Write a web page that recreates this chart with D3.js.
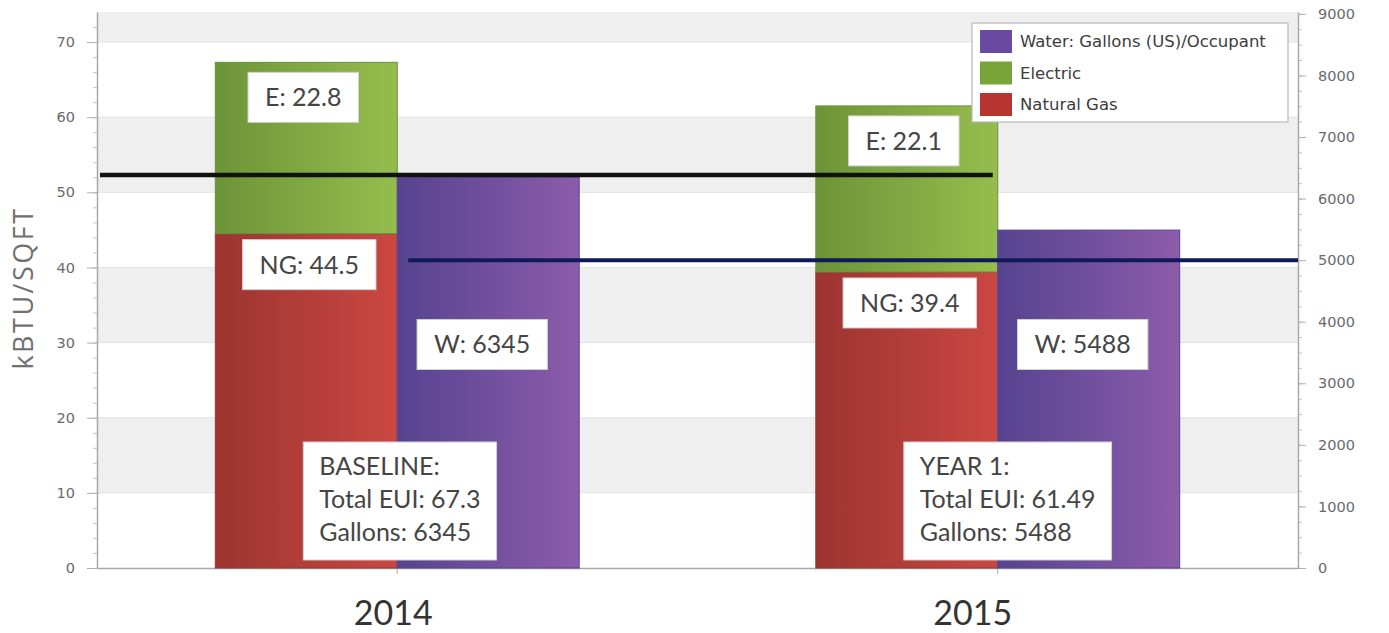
<!DOCTYPE html>
<html>
<head>
<meta charset="utf-8">
<script src="https://cdn.jsdelivr.net/npm/d3@7"></script>
<style>
  body { margin: 0; background: #ffffff; }
  svg { display: block; font-family: Lato, "Open Sans", sans-serif; }
</style>
</head>
<body>
<svg id="chart" width="1389" height="633"></svg>
<script>
// ---- data ----
const years = ["2014", "2015"];
const naturalGas = [44.5, 39.4];          // kBTU/SQFT
const electric = [22.8, 22.1];            // kBTU/SQFT
const water = [6345, 5488];               // gallons per occupant
const summaryTitles = ["BASELINE:", "YEAR 1:"];
const totalEui = [67.3, 61.49];
const gallons = [6345, 5488];
const leftTicks = [0, 10, 20, 30, 40, 50, 60, 70];
const rightTicks = [0, 1000, 2000, 3000, 4000, 5000, 6000, 7000, 8000, 9000];
const legendNames = ["Water: Gallons (US)/Occupant", "Electric", "Natural Gas"];
const euiReference = 52.3;     // kBTU/SQFT target line
const waterReference = 5000;   // gallons target line

// ---- layout ----
const svg = d3.select("#chart");
const plot = { left: 97, right: 1298, top: 12, bottom: 568 };

const yL = d3.scaleLinear().domain([0, 74]).range([plot.bottom, plot.top]);
const yR = d3.scaleLinear().domain([0, 9030]).range([plot.bottom, plot.top]);
const x0 = d3.scaleBand().domain(years).range([plot.left, plot.right]).padding(0);
const groupW = x0.bandwidth() * 0.606;
const x1 = d3.scaleBand().domain(["energy", "water"]).range([0, groupW]);
const groupLeft = y => x0(y) + (x0.bandwidth() - groupW) / 2;
const center = y => x0(y) + x0.bandwidth() / 2;

const colors = {
  gas: ["#9c3430", "#cb4742"],
  elec: ["#6c9438", "#95bd4d"],
  water: ["#56438f", "#8c5cab"]
};
const legendColors = ["#6a4aa0", "#78a53a", "#b8352f"];

// horizontal gradients for the bars
const defs = svg.append("defs");
Object.entries(colors).forEach(([k, c]) => {
  const g = defs.append("linearGradient").attr("id", "grad-" + k)
    .attr("x1", "0%").attr("x2", "100%").attr("y1", "0%").attr("y2", "0%");
  g.append("stop").attr("offset", "0%").attr("stop-color", c[0]);
  g.append("stop").attr("offset", "100%").attr("stop-color", c[1]);
});

// ---- alternating background bands ----
const bandEdges = leftTicks.concat([yL.domain()[1]]);
svg.append("g").selectAll("rect")
  .data(d3.range(bandEdges.length - 1))
  .join("rect")
  .attr("x", plot.left)
  .attr("width", plot.right - plot.left)
  .attr("y", i => yL(bandEdges[i + 1]))
  .attr("height", i => yL(bandEdges[i]) - yL(bandEdges[i + 1]))
  .attr("fill", i => i % 2 === 1 ? "#efefef" : "#ffffff");

svg.append("g").selectAll("line")
  .data(leftTicks.slice(1))
  .join("line")
  .attr("x1", plot.left).attr("x2", plot.right)
  .attr("y1", d => yL(d)).attr("y2", d => yL(d))
  .attr("stroke", "#e2e2e2").attr("stroke-width", 1);

// ---- axes ----
function styleAxis(g) {
  g.selectAll(".domain").attr("stroke", "#a8a8a8").attr("stroke-width", 1.5);
  g.selectAll(".tick line").attr("stroke", "#b0b0b0");
  g.selectAll(".tick text").attr("fill", "#6a6a6a").style("font-size", "14.5px")
    .style("font-family", "'DejaVu Sans', sans-serif");
}

svg.append("g")
  .attr("transform", `translate(${plot.left},0)`)
  .call(d3.axisLeft(yL).tickValues(d3.range(0, 74, 2)).tickSize(4).tickFormat(""))
  .call(g => g.select(".domain").remove())
  .call(g => g.selectAll("line").attr("stroke", "#c4c4c4"));
svg.append("g")
  .attr("transform", `translate(${plot.left},0)`)
  .call(d3.axisLeft(yL).tickValues(leftTicks).tickSize(10).tickSizeOuter(0).tickPadding(12))
  .call(styleAxis);

svg.append("g")
  .attr("transform", `translate(${plot.right},0)`)
  .call(d3.axisRight(yR).tickValues(d3.range(0, 9001, 250)).tickSize(4).tickFormat(""))
  .call(g => g.select(".domain").remove())
  .call(g => g.selectAll("line").attr("stroke", "#c4c4c4"));
svg.append("g")
  .attr("transform", `translate(${plot.right},0)`)
  .call(d3.axisRight(yR).tickValues(rightTicks).tickFormat(d3.format("d"))
    .tickSize(8).tickSizeOuter(0).tickPadding(12))
  .call(styleAxis);

// category axis
const xAxis = svg.append("g").attr("transform", `translate(0,${plot.bottom})`)
  .call(d3.axisBottom(x0).tickSize(6).tickSizeOuter(0).tickFormat(""));
xAxis.select(".domain").attr("stroke", "#a8a8a8").attr("stroke-width", 1.5);
xAxis.selectAll(".tick line").attr("stroke", "#b0b0b0");

const yearShift = { "2014": -4, "2015": -25 };
svg.append("g").selectAll("text")
  .data(years)
  .join("text")
  .attr("x", d => center(d) + yearShift[d])
  .attr("y", 625)
  .attr("text-anchor", "middle")
  .attr("fill", "#333")
  .style("font-size", "34px")
  .text(d => d);

// y axis title
svg.append("text")
  .attr("transform", "translate(33,288) rotate(-90)")
  .attr("text-anchor", "middle")
  .attr("fill", "#707070")
  .style("font-family", "'Open Sans', sans-serif")
  .style("font-size", "27px")
  .style("letter-spacing", "2.5px")
  .text("kBTU/SQFT");

// ---- bars ----
const bars = svg.append("g");
years.forEach((yr, i) => {
  const xe = groupLeft(yr) + x1("energy");
  const xw = groupLeft(yr) + x1("water");
  const bw = x1.bandwidth();
  bars.append("rect")
    .attr("x", xe).attr("width", bw)
    .attr("y", yL(naturalGas[i])).attr("height", yL(0) - yL(naturalGas[i]))
    .attr("fill", "url(#grad-gas)").attr("stroke", "#9a3632").attr("stroke-width", 1);
  bars.append("rect")
    .attr("x", xe).attr("width", bw)
    .attr("y", yL(naturalGas[i] + electric[i])).attr("height", yL(naturalGas[i]) - yL(naturalGas[i] + electric[i]))
    .attr("fill", "url(#grad-elec)").attr("stroke", "#6a8f3a").attr("stroke-width", 1);
  bars.append("rect")
    .attr("x", xw).attr("width", bw)
    .attr("y", yR(water[i])).attr("height", yR(0) - yR(water[i]))
    .attr("fill", "url(#grad-water)").attr("stroke", "#574591").attr("stroke-width", 1);
});

// ---- reference lines ----
svg.append("line")
  .attr("x1", plot.left + 3).attr("x2", center("2015") - 5)
  .attr("y1", yL(euiReference)).attr("y2", yL(euiReference))
  .attr("stroke", "#111").attr("stroke-width", 4.5);
svg.append("line")
  .attr("x1", center("2014") + 11).attr("x2", plot.right)
  .attr("y1", yR(waterReference)).attr("y2", yR(waterReference))
  .attr("stroke", "#0f1a58").attr("stroke-width", 4);

// ---- value labels ----
function labelBox(cx, top, text) {
  const g = svg.append("g");
  const t = g.append("text")
    .attr("x", cx).attr("y", top + 34)
    .attr("text-anchor", "middle")
    .attr("fill", "#454545")
    .style("font-size", "25px")
    .text(text);
  const w = t.node().getBBox().width + 34;
  g.insert("rect", "text")
    .attr("x", cx - w / 2).attr("y", top)
    .attr("width", w).attr("height", 50)
    .attr("fill", "#ffffff").attr("stroke", "#d0d0d0").attr("stroke-width", 1);
}

const wLabelLevel = 3630;   // gallons level where the water labels sit
years.forEach((yr, i) => {
  const xe = groupLeft(yr) + x1("energy") + x1.bandwidth() / 2;
  const xw = groupLeft(yr) + x1("water") + x1.bandwidth() / 2;
  labelBox(xe - 3, yL(naturalGas[i] + electric[i]) + 10, "E: " + electric[i]);
  labelBox(xe + 3, yL(naturalGas[i]) + 6, "NG: " + naturalGas[i]);
  labelBox(xw - 6, yR(wLabelLevel) - 25, "W: " + water[i]);
});

// ---- summary boxes ----
years.forEach((yr, i) => {
  const left = groupLeft(yr) + 88;
  const g = svg.append("g");
  const lines = [summaryTitles[i], "Total EUI: " + totalEui[i], "Gallons: " + gallons[i]];
  const t = g.append("text").attr("fill", "#454545").style("font-size", "25px");
  lines.forEach((s, k) => {
    t.append("tspan").attr("x", left + 16).attr("y", 475 + k * 33).text(s);
  });
  const w = t.node().getBBox().width + 32;
  g.insert("rect", "text")
    .attr("x", left).attr("y", 442)
    .attr("width", w).attr("height", 118)
    .attr("fill", "#ffffff").attr("stroke", "#d0d0d0").attr("stroke-width", 1);
});

// ---- legend ----
const legend = svg.append("g").attr("transform", "translate(972,23)");
legend.append("rect")
  .attr("width", 316).attr("height", 99)
  .attr("fill", "#ffffff").attr("stroke", "#b8b8b8").attr("stroke-width", 1.2);
legendNames.forEach((name, k) => {
  const row = legend.append("g").attr("transform", `translate(8,${7 + k * 31.5})`);
  row.append("rect").attr("width", 32).attr("height", 23).attr("fill", legendColors[k]);
  row.append("text")
    .attr("x", 40).attr("y", 17)
    .attr("fill", "#3c3c3c")
    .style("font-family", "'DejaVu Sans', sans-serif")
    .style("font-size", "16.5px")
    .text(name);
});
</script>
</body>
</html>
